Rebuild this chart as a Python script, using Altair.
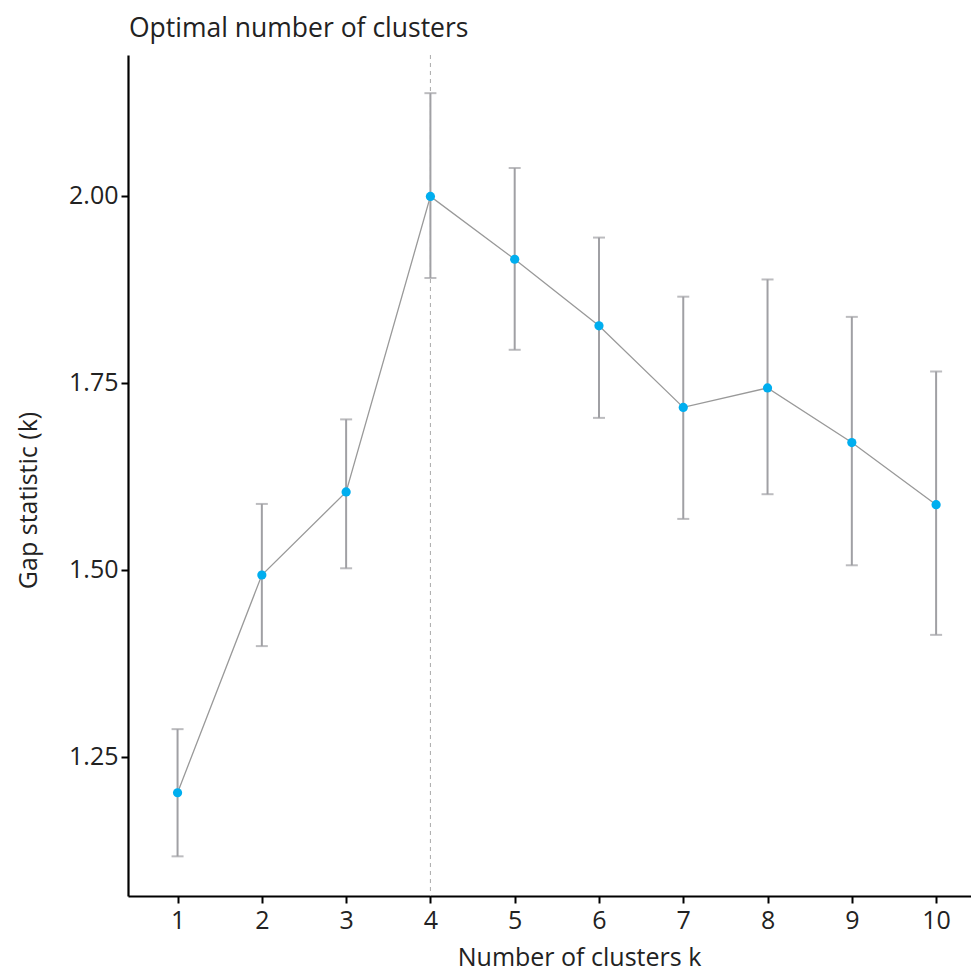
import altair as alt
import pandas as pd

k_values = [1, 2, 3, 4, 5, 6, 7, 8, 9, 10]
gap = [1.202, 1.493, 1.604, 1.999, 1.915, 1.826, 1.717, 1.743, 1.670, 1.587]
gap_upper = [1.287, 1.588, 1.701, 2.137, 2.037, 1.944, 1.865, 1.888, 1.838, 1.765]
gap_lower = [1.117, 1.398, 1.502, 1.890, 1.794, 1.703, 1.568, 1.601, 1.506, 1.413]
optimal_k = [4]
y_ticks = [1.25, 1.50, 1.75, 2.00]

df = pd.DataFrame({"k": k_values, "gap": gap, "lo": gap_lower, "hi": gap_upper})
df_opt = pd.DataFrame({"k": optimal_k})

FONT = "Open Sans"

x_scale = alt.Scale(domain=[0.412, 10.414], nice=False, zero=False)
y_scale = alt.Scale(domain=[1.064, 2.188], nice=False, zero=False)

x_axis = alt.Axis(
    values=k_values, format="d", title="Number of clusters k",
    grid=False, domainColor="black", domainWidth=2.2, tickColor="black",
    tickWidth=2, tickSize=7, labelFontSize=25, labelColor="#222222",
    labelPadding=5, labelFont=FONT, titleFont=FONT, titleFontSize=25,
    titleFontWeight="normal", titleColor="#222222",
    titleX=451, titleY=49, titleAlign="center", titleBaseline="top",
)
y_axis = alt.Axis(
    values=y_ticks, format=".2f", title="Gap statistic (k)",
    grid=False, domainColor="black", domainWidth=2.2, tickColor="black",
    tickWidth=2, tickSize=7, labelFontSize=25, labelColor="#222222",
    labelPadding=3, labelFont=FONT, titleFont=FONT, titleFontSize=25,
    titleFontWeight="normal", titleColor="#222222",
    titleX=-100, titleY=445, titleAngle=270, titleAlign="center", titleBaseline="middle",
)

base = alt.Chart(df)

vline = alt.Chart(df_opt).mark_rule(color="#aaaaaa", strokeDash=[4, 4], strokeWidth=1).encode(
    x=alt.X("k:Q", scale=x_scale, axis=x_axis)
)

err = base.mark_rule(color="#a0a0a4", strokeWidth=2).encode(
    x=alt.X("k:Q", scale=x_scale, axis=x_axis),
    y=alt.Y("lo:Q", scale=y_scale, axis=y_axis),
    y2="hi:Q",
)
cap_hi = base.mark_tick(color="#a0a0a4", orient="horizontal", size=12, thickness=2).encode(
    x=alt.X("k:Q", scale=x_scale), y=alt.Y("hi:Q", scale=y_scale)
)
cap_lo = base.mark_tick(color="#a0a0a4", orient="horizontal", size=12, thickness=2).encode(
    x=alt.X("k:Q", scale=x_scale), y=alt.Y("lo:Q", scale=y_scale)
)
line = base.mark_line(color="#999999", strokeWidth=1.3).encode(
    x=alt.X("k:Q", scale=x_scale), y=alt.Y("gap:Q", scale=y_scale)
)
points = base.mark_circle(color="#00aeef", opacity=1, size=85).encode(
    x=alt.X("k:Q", scale=x_scale), y=alt.Y("gap:Q", scale=y_scale)
)

chart = alt.layer(vline, err, cap_hi, cap_lo, line, points).properties(
    width=843, height=841,
    autosize=alt.AutoSizeParams(type="none"),
    padding={"left": 120, "top": 47, "right": 0, "bottom": 76},
    title=alt.TitleParams(
        "Optimal number of clusters", anchor="start", frame="group",
        font=FONT, fontSize=26.5, fontWeight="normal", color="#222222",
        baseline="bottom", offset=12, dx=1, dy=27,
    ),
).configure_view(stroke=None)

chart.save("out.html", embed_options={"renderer": "svg", "actions": False})
